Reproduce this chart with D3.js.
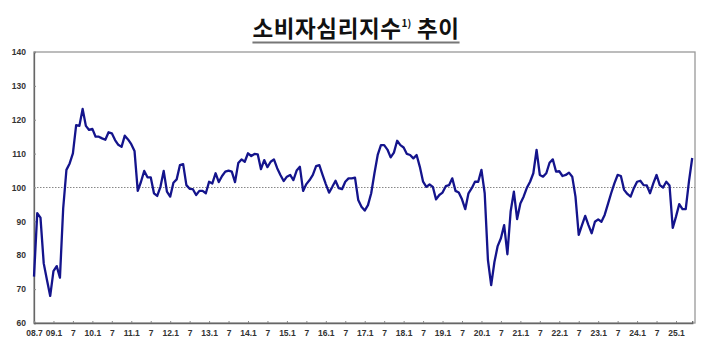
<!DOCTYPE html>
<html><head><meta charset="utf-8">
<script src="https://cdn.jsdelivr.net/npm/d3@7"></script>
<style>body{margin:0;background:#fff}svg{display:block}</style>
</head><body><svg id="c" width="710" height="351"></svg>
<script>
const startYear = 2008, startMonth = 7;
const ccsi = [
73.7,92.4,91.1,77.6,72.7,68.0,75.3,76.8,73.4,93.8,105.2,107.1,110.1,118.4,118.2,123.2,
118.2,117.0,117.3,115.0,115.0,114.5,114.1,116.3,116.0,114.0,112.6,112.0,115.3,114.2,112.8,110.8,
99.0,101.7,104.9,103.0,103.0,98.3,97.5,100.2,104.9,98.8,97.3,101.4,102.4,106.6,106.9,100.7,
99.6,99.5,97.8,99.0,99.0,98.3,101.7,101.2,104.2,101.6,103.4,104.7,105.0,104.7,101.6,107.2,
108.3,107.6,110.1,109.3,109.9,109.8,105.4,108.1,106.0,107.6,108.3,105.7,103.7,101.9,103.2,103.7,
102.2,105.0,106.1,99.0,101.0,102.2,103.7,106.3,106.6,103.7,101.0,98.5,100.2,102.0,99.8,99.5,
101.7,102.7,102.7,102.9,96.3,94.3,93.2,94.8,98.3,104.2,109.6,112.5,112.5,111.2,108.9,110.3,
113.8,112.5,111.8,109.9,109.6,108.6,109.6,106.1,101.7,100.2,100.9,100.2,96.5,97.8,98.5,100.4,
100.7,102.7,99.0,98.5,96.5,93.6,98.3,99.8,101.7,101.7,105.2,98.3,78.6,71.2,78.0,82.7,
85.0,88.9,80.3,92.9,98.8,90.7,95.3,97.3,99.9,101.7,104.2,111.1,103.7,103.2,104.2,107.3,
108.3,104.7,104.8,103.4,103.7,104.4,103.2,97.3,86.0,88.9,91.6,88.9,86.5,89.9,90.6,89.9,
91.9,95.1,98.3,101.2,103.7,103.4,99.3,98.1,97.3,99.8,101.7,102.0,100.7,100.6,98.3,101.2,
103.7,100.7,100.0,101.7,100.6,88.1,91.4,95.1,93.6,93.6,101.8,108.7
];
const yTicks = [60,70,80,90,100,110,120,130,140];
const xTickLabels = ["08.7","09.1","7","10.1","7","11.1","7","12.1","7","13.1","7","14.1","7","15.1","7","16.1","7","17.1","7","18.1","7","19.1","7","20.1","7","21.1","7","22.1","7","23.1","7","24.1","7","25.1"];
const xTickIndex = xTickLabels.map((d,i)=> i===0 ? 0 : 6*i);
const baseline = 100;
const title = "소비자심리지수";
const titleSup = "1)";
const titleTail = " 추이";

const svg = d3.select("#c");
const L=34, R=695, T=52, B=323;
const x = d3.scaleLinear().domain([0, 203]).range([L, L + 203*(642/198)]);
const y = d3.scaleLinear().domain([60,140]).range([B,T]);

// title
const tt = svg.append("text").attr("x",356).attr("y",37).attr("text-anchor","middle")
  .attr("font-family","'Noto Sans CJK KR'").attr("font-weight","bold").attr("font-size",22.5)
  .attr("letter-spacing",0.6).attr("fill","#111");
tt.append("tspan").text(title);
tt.append("tspan").text(titleSup).attr("font-size",10).attr("dy",-10).attr("letter-spacing",0);
tt.append("tspan").text(titleTail).attr("dy",10);
const bb = tt.node().getBBox();
svg.append("line").attr("x1",bb.x).attr("x2",bb.x+bb.width).attr("y1",42.5).attr("y2",42.5)
  .attr("stroke","#777").attr("stroke-width",2);

// frame
svg.append("rect").attr("x",L).attr("y",T).attr("width",R-L).attr("height",B-T)
  .attr("fill","none").attr("stroke","#999").attr("stroke-width",1.3);

// y axis
const yAxis = svg.append("g").attr("transform",`translate(${L},0)`)
  .call(d3.axisLeft(y).tickValues(yTicks).tickSize(-2).tickPadding(8).tickFormat(d3.format("d")));
yAxis.select(".domain").attr("stroke","#666").attr("stroke-width",1.3);
yAxis.selectAll(".tick line").attr("stroke","#888");
yAxis.selectAll("text").attr("font-family","'Liberation Sans',Arial").attr("font-weight","bold")
  .attr("font-size",8.5).attr("fill","#333");

// x axis
const xAxis = svg.append("g").attr("transform",`translate(0,${B})`)
  .call(d3.axisBottom(x).tickValues(xTickIndex).tickSize(-2).tickPadding(7)
    .tickFormat((d,i)=>xTickLabels[i]));
xAxis.select(".domain").attr("stroke","#666").attr("stroke-width",1.3);
xAxis.selectAll(".tick line").attr("stroke","#888");
xAxis.selectAll("text").attr("font-family","'Liberation Sans',Arial").attr("font-weight","bold")
  .attr("font-size",8.5).attr("fill","#333");

// baseline 100
svg.append("line").attr("x1",L).attr("x2",R).attr("y1",y(baseline)).attr("y2",y(baseline))
  .attr("stroke","#888").attr("stroke-width",1).attr("stroke-dasharray","1.5,1.5");

// line
svg.append("path").datum(ccsi)
  .attr("d", d3.line().x((d,i)=>x(i)).y(d=>y(d)))
  .attr("fill","none").attr("stroke","#14148c").attr("stroke-width",2.3).attr("stroke-linejoin","round");
</script></body></html>
